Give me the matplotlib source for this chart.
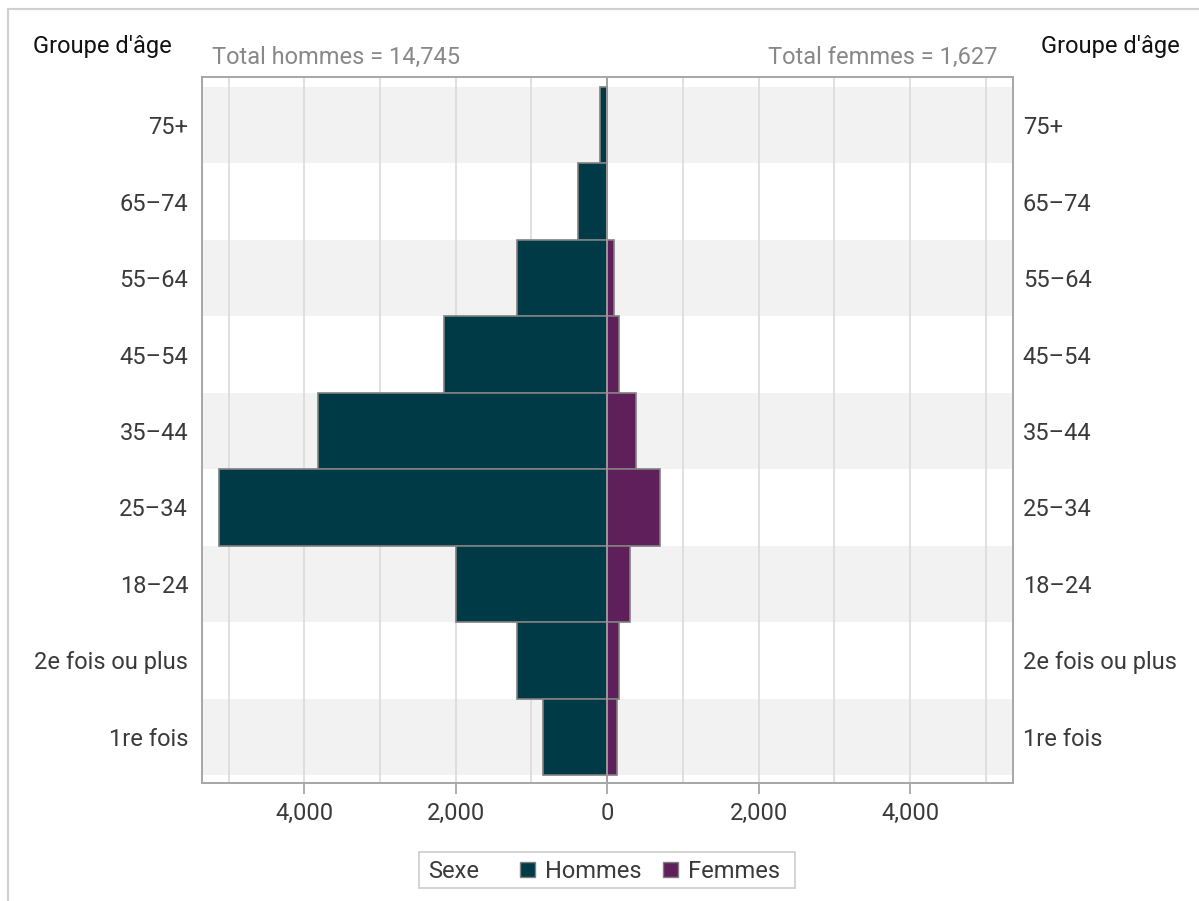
import matplotlib
matplotlib.use("Agg")
import matplotlib.pyplot as plt
from matplotlib.patches import Patch, Rectangle
from matplotlib.lines import Line2D
import numpy as np

plt.rcParams['font.family'] = ['Roboto', 'DejaVu Sans']

categories = ["75+", "65–74", "55–64", "45–54", "35–44", "25–34", "18–24",
              "2e fois ou plus", "1re fois"]
hommes = [90, 380, 1185, 2150, 3820, 5130, 1990, 1190, 845]
femmes = [0, 0, 85, 160, 378, 704, 300, 156, 130]
xticks = [-4000, -2000, 0, 2000, 4000]
xtick_labels = ["4,000", "2,000", "0", "2,000", "4,000"]
total_hommes = "14,745"
total_femmes = "1,627"

c_h = "#003A46"
c_f = "#5E1F5A"
edge = "#808080"
txt = "#3A3A3A"
fs = 17

W, H = 1199, 901
fig = plt.figure(figsize=(W / 100, H / 100), dpi=100)
ax = fig.add_axes([202 / W, 1 - 783 / H, 811 / W, 706 / H])

y = np.arange(len(categories))
for i in y:
    if i % 2 == 0:
        ax.axhspan(i - 0.5, i + 0.5, color="#F2F2F2", zorder=0, lw=0)
for gx in range(-5000, 5001, 1000):
    if gx != 0:
        ax.axvline(gx, color="#DADADA", lw=1.2, zorder=1)

ax.barh(y, [-v for v in hommes], height=1.0, color=c_h, edgecolor=edge, lw=1.2, zorder=3)
ax.barh(y, femmes, height=1.0, color=c_f, edgecolor=edge, lw=1.2, zorder=3)
ax.axvline(0, color="#9A9A9A", lw=1.3, zorder=4)

ax.set_xlim(-5350, 5360)
ax.set_ylim(8.605, -0.63)
ax.set_yticks(y)
ax.set_yticklabels(categories)
ax.tick_params(axis='y', length=0, labelsize=fs, labelcolor=txt, pad=10)

ax2 = ax.twinx()
ax2.set_ylim(ax.get_ylim())
ax2.set_yticks(y)
ax2.set_yticklabels(categories)
ax2.tick_params(axis='y', length=0, labelsize=fs, labelcolor=txt, pad=7)

ax.set_xticks(xticks)
ax.set_xticklabels(xtick_labels)
ax.tick_params(axis='x', length=8, width=1.2, color="#A0A0A0", labelsize=fs,
               labelcolor=txt, pad=6)
for a in (ax, ax2):
    for s in a.spines.values():
        s.set_color("#A8A8A8")
        s.set_linewidth(1.3)

fig.text(33 / W, 1 - 47 / H, "Groupe d'âge", fontsize=fs, color="#111111",
         ha='left', va='center')
fig.text(1180 / W, 1 - 47 / H, "Groupe d'âge", fontsize=fs, color="#111111",
         ha='right', va='center')
fig.text(212 / W, 1 - 57 / H, "Total hommes = " + total_hommes, fontsize=fs,
         color="#888888", ha='left', va='center')
fig.text(998 / W, 1 - 57 / H, "Total femmes = " + total_femmes, fontsize=fs,
         color="#888888", ha='right', va='center')

# legend: box + "Sexe" title + entries
fig.add_artist(Rectangle((419 / W, 1 - 888 / H), 376 / W, 36 / H,
                         transform=fig.transFigure, facecolor="white",
                         edgecolor="#CCCCCC", lw=1.2))
fig.text(428 / W, 1 - 871 / H, "Sexe", fontsize=fs, color=txt,
         ha='left', va='center')
handles = [Patch(facecolor=c_h, edgecolor=edge),
           Patch(facecolor=c_f, edgecolor=edge)]
labels = ["Hommes", "Femmes"]
leg = fig.legend(handles, labels, ncol=2, loc='center left',
                 bbox_to_anchor=(520 / W, 1 - 871 / H), fontsize=fs,
                 frameon=False, handlelength=0.62, handleheight=0.62,
                 handletextpad=0.45, columnspacing=0.9, borderpad=0,
                 borderaxespad=0)
for t in leg.get_texts():
    t.set_color(txt)

fig.add_artist(Line2D([8 / W, 8 / W], [0, 1 - 9 / H], color="#D0D0D0", lw=1.5,
                      transform=fig.transFigure))
fig.add_artist(Line2D([8 / W, 1], [1 - 9 / H, 1 - 9 / H], color="#D0D0D0", lw=1.5,
                      transform=fig.transFigure))

fig.savefig("out.png", dpi=100)
